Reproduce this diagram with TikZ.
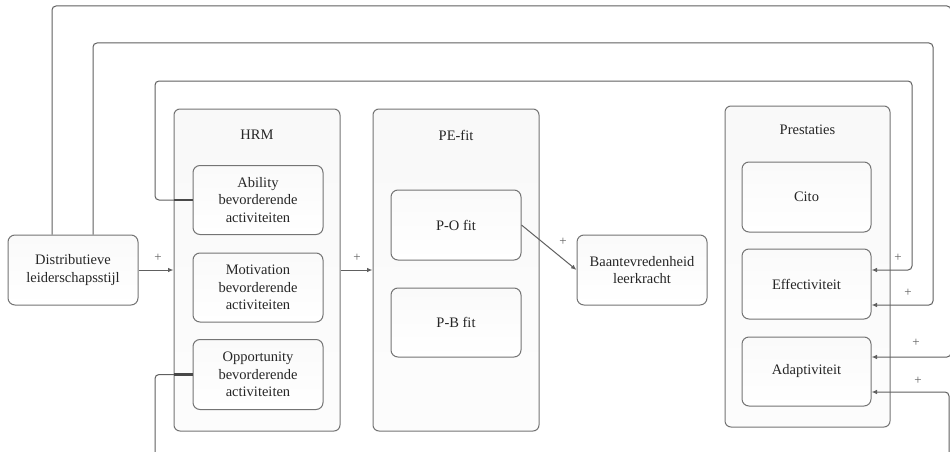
\documentclass[tikz,border=0pt]{standalone}
\usepackage{fontspec}
\setmainfont{Liberation Serif}
\usetikzlibrary{arrows.meta}
\definecolor{linegray}{HTML}{606060}
\definecolor{edgegray}{HTML}{747474}
\definecolor{txt}{HTML}{262626}
\definecolor{panelmid}{HTML}{E5E6E8}
\definecolor{boxmid}{HTML}{DDDEE0}
\begin{document}
\begin{tikzpicture}[x=1pt,y=-1pt,
  every node/.style={font=\fontsize{14.5}{17.5}\selectfont, text=txt},
  panel/.style={draw=edgegray, line width=1pt, rounded corners=6pt,
    top color=white!95!gray, middle color=panelmid, bottom color=white!98!gray,
    minimum width=#1, inner sep=0pt},
  itembox/.style={draw=edgegray, line width=1pt, rounded corners=7pt,
    top color=white!96!gray, middle color=boxmid, bottom color=white,
    minimum width=130pt, minimum height=70pt, align=center, inner sep=0pt},
  conn/.style={draw=linegray, line width=1pt, rounded corners=4pt},
  arr/.style={conn, -{Latex[length=5.5pt,width=4.5pt]}},
  joint/.style={draw=linegray!75!black, line width=2.2pt},
  plus/.style={font=\fontsize{13}{14}\selectfont, text=linegray, inner sep=0pt},
]
\useasboundingbox (0,0) rectangle (950,452);
\fill[white] (0,0) rectangle (950,452);

% group panels
\node[panel=166pt, minimum height=322pt] (hrm) at (257,270) {};
\node[panel=166pt, minimum height=322pt] (pefit) at (456,270) {};
\node[panel=165pt, minimum height=321pt] (prest) at (807.5,266.5) {};
\node (hrmlabel) at (257,135) {HRM};
\node (pefitlabel) at (456,135) {PE-fit};
\node (prestlabel) at (807.5,130) {Prestaties};

% boxes
\node[itembox] (dist) at (73,270) {Distributieve\\leiderschapsstijl};
\node[itembox, minimum height=69pt] (ability) at (258,200) {Ability\\bevorderende\\activiteiten};
\node[itembox, minimum height=69pt] (motiv) at (258,287.5) {Motivation\\bevorderende\\activiteiten};
\node[itembox] (opp) at (258,374.5) {Opportunity\\bevorderende\\activiteiten};
\node[itembox] (po) at (456,225) {P-O fit};
\node[itembox, minimum height=69pt] (pb) at (456,322.5) {P-B fit};
\node[itembox] (baan) at (642,270) {Baantevredenheid\\leerkracht};
\node[itembox, minimum width=129pt] (cito) at (806.5,197) {Cito};
\node[itembox, minimum width=129pt] (eff) at (806.5,284) {Effectiviteit};
\node[itembox, minimum width=129pt, minimum height=69pt] (adapt) at (806.5,371.5) {Adaptiviteit};

% waypoints of the feedback loops
\coordinate (c1b) at (52,6);
\coordinate (c1c) at (951,6);
\coordinate (c1d) at (951,357);
\coordinate (c2b) at (93,43);
\coordinate (c2c) at (933,43);
\coordinate (c2d) at (933,305);
\coordinate (c3a) at (155,200);
\coordinate (c3b) at (155,81);
\coordinate (c3c) at (912,81);
\coordinate (c3d) at (912,270);
\coordinate (c4a) at (155,374.5);
\coordinate (c4b) at (155,452);
\coordinate (c4c) at (949,452);
\coordinate (c4d) at (949,392);

% main chain
\draw[arr] (dist.east) -- (hrm.west);
\draw[arr] (hrm.east) -- (pefit.west);
\draw[arr] (po.east) -- (baan.west);

% feedback loops
\draw[arr] (dist.north -| c1b) -- (c1b) -- (c1c) -- (c1d) -- (adapt.east |- c1d);
\draw[arr] (dist.north -| c2b) -- (c2b) -- (c2c) -- (c2d) -- (eff.east |- c2d);
\draw[arr] (ability.west) -- (c3a) -- (c3b) -- (c3c) -- (c3d) -- (eff.east |- c3d);
\draw[conn] (opp.west) -- (c4a) -- (c4b);
\draw[arr] (c4c) -- (c4d) -- (adapt.east |- c4d);

% joints where the loops leave the HRM panel
\draw[joint] (ability.west) -- (hrm.west |- ability.west);
\draw[joint] (opp.west) -- (hrm.west |- opp.west);

% signs
\node[plus] (s1) at (158,258) {+};
\node[plus] (s2) at (357,258) {+};
\node[plus] (s3) at (563,242) {+};
\node[plus] (s4) at (898,258) {+};
\node[plus] (s5) at (908,293) {+};
\node[plus] (s6) at (916,343) {+};
\node[plus] (s7) at (918,381) {+};
\end{tikzpicture}
\end{document}
